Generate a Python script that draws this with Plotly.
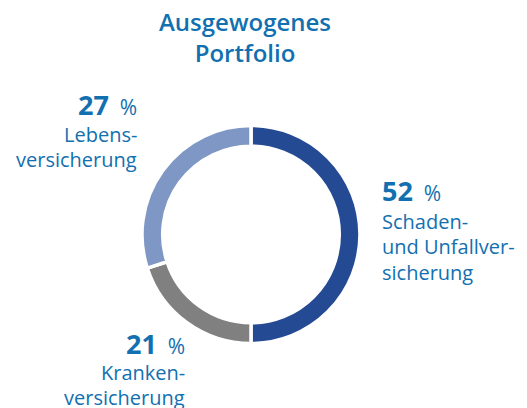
import plotly.graph_objects as go

labels = ["Schaden- und Unfallversicherung", "Krankenversicherung", "Lebensversicherung"]
values = [50, 20, 30]          # slice sizes as drawn in the ring
colors = ["#244a94", "#808080", "#7f97c4"]
pct_texts = ["52", "21", "27"]  # printed percentages
name_lines = [["Schaden-", "und Unfallver-", "sicherung"], ["Kranken-", "versicherung"], ["Lebens-", "versicherung"]]
title_lines = ["Ausgewogenes", "Portfolio"]

W, H = 527, 408
txt = "#1270b0"
FONT = "Open Sans"
R = 109
CX, CY = 251, 408 - 234.5

fig = go.Figure(go.Pie(
    labels=labels, values=values, sort=False, direction="clockwise", rotation=0,
    hole=0.81, marker=dict(colors=colors, line=dict(color="white", width=3.5)),
    textinfo="none", hoverinfo="label", showlegend=False,
    domain=dict(x=[(CX - R) / W, (CX + R) / W], y=[(CY - R) / H, (CY + R) / H]),
))

ann = [dict(x=245 / W, y=1 - 37 / H, text="<br>".join(title_lines), showarrow=False,
            xref="paper", yref="paper", xanchor="center", yanchor="middle",
            font=dict(family=FONT, size=24, color=txt, weight=600))]

layout_pos = [(380, "left", 190, 222), (187, "right", 343, 372), (139, "right", 105, 135)]
for k in range(len(values)):
    x, anc, ynum, yname = layout_pos[k]
    ann.append(dict(x=x / W, y=1 - ynum / H, xref="paper", yref="paper", showarrow=False,
                    xanchor=anc, yanchor="middle",
                    text=f"<b>{pct_texts[k]}</b><span style='font-size:21px'>  %</span>",
                    font=dict(family=FONT, size=27, color=txt)))
    for j, line in enumerate(name_lines[k]):
        ann.append(dict(x=x / W, y=1 - (yname + 25 * j) / H, xref="paper", yref="paper",
                        showarrow=False, xanchor=anc, yanchor="middle", text=line,
                        font=dict(family=FONT, size=20, color=txt)))

fig.update_layout(width=W, height=H, margin=dict(l=0, r=0, t=0, b=0),
                  paper_bgcolor="white", plot_bgcolor="white", annotations=ann)
fig.write_html("out.html", config={"displayModeBar": False},
               post_script="document.body.style.margin='0';")
